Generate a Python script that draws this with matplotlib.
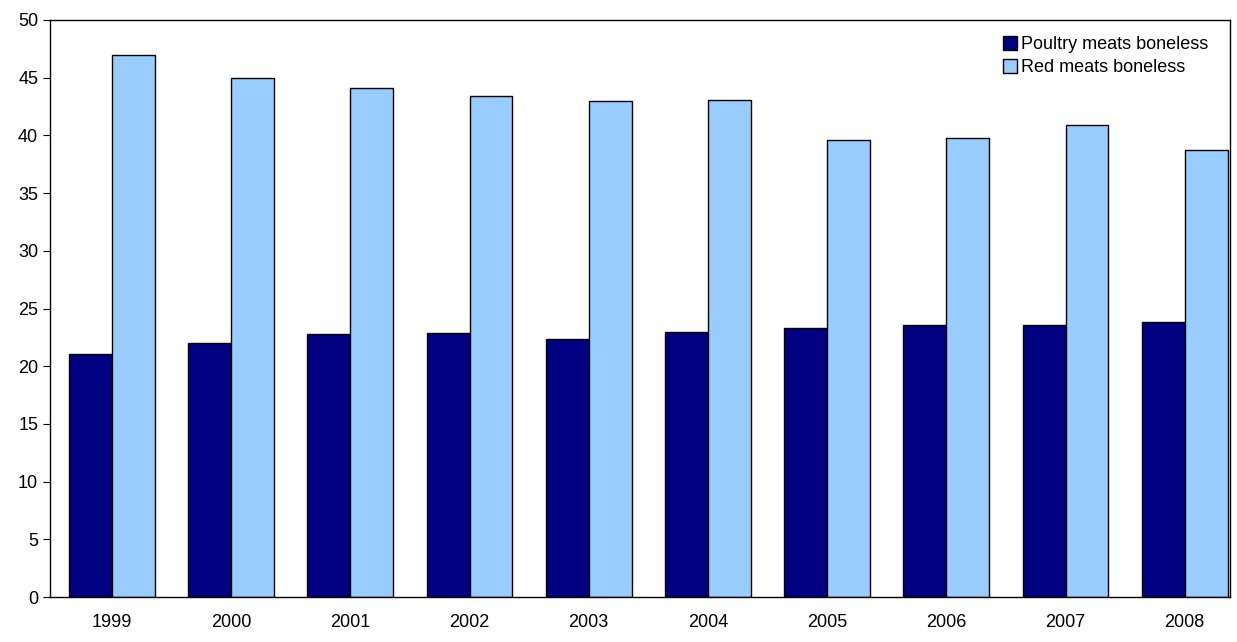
import matplotlib.pyplot as plt
import numpy as np

years = ['1999', '2000', '2001', '2002', '2003', '2004', '2005', '2006', '2007', '2008']
poultry = [21.1, 22.0, 22.8, 22.9, 22.4, 23.0, 23.3, 23.6, 23.6, 23.8]
red = [47.0, 45.0, 44.1, 43.4, 43.0, 43.1, 39.6, 39.8, 40.9, 38.7]

plt.rcParams['font.family'] = ['Liberation Sans', 'DejaVu Sans']

fig = plt.figure(figsize=(12.37, 6.42), dpi=100)
ax = fig.add_axes([50 / 1237, 45 / 642, 1180 / 1237, 577 / 642])

x = np.arange(len(years))
w = 0.36
ax.bar(x - w / 2, poultry, w, color='#000080', edgecolor='black', linewidth=1, label='Poultry meats boneless')
ax.bar(x + w / 2, red, w, color='#99ccff', edgecolor='black', linewidth=1, label='Red meats boneless')

ax.set_xlim(-0.52, 9.38)
ax.set_ylim(0, 50)
ax.set_yticks(range(0, 51, 5))
ax.set_xticks(x)
ax.set_xticklabels(years)
ax.tick_params(axis='x', length=0, labelsize=13, pad=12)
ax.tick_params(axis='y', length=5, labelsize=13)
for s in ax.spines.values():
    s.set_linewidth(1)

leg = ax.legend(loc='upper right', frameon=False, fontsize=13, handlelength=0.8, handleheight=0.8,
                handletextpad=0.2, labelspacing=0.3, bbox_to_anchor=(0.995, 1.0))

fig.savefig('out.png', dpi=100)
